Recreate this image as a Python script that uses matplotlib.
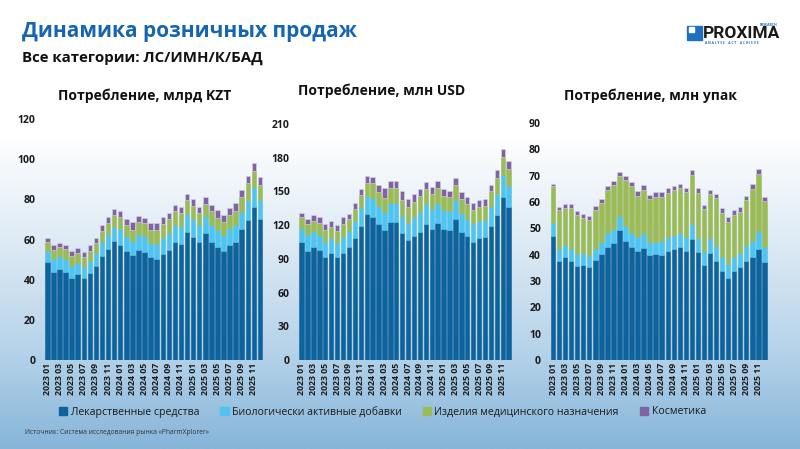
import matplotlib
matplotlib.use("Agg")
import matplotlib.pyplot as plt
import numpy as np
from matplotlib.patches import Patch, Rectangle
from matplotlib.colors import LinearSegmentedColormap

plt.rcParams['font.family'] = ['Open Sans', 'DejaVu Sans']

months = [f"{y} {m:02d}" for y in (2023, 2024, 2025) for m in range(1, 13)]
tick_labels = [m if i % 2 == 0 else "" for i, m in enumerate(months)]

series_names = ["Лекарственные средства", "Биологически активные добавки",
                "Изделия медицинского назначения", "Косметика"]
colors = ["#0E639C", "#4FC4F0", "#9BBB59", "#8064A2"]

# Chart 1: млрд KZT
kzt_ls = [48.7, 43.9, 45.3, 44.0, 41.0, 42.7, 40.7, 43.2, 47.0, 51.8, 55.3, 59.1,
          57.5, 54.2, 52.2, 54.7, 54.0, 51.3, 50.5, 52.8, 54.8, 58.6, 57.6, 63.6,
          61.3, 58.8, 63.0, 58.8, 56.3, 54.3, 57.5, 59.0, 65.1, 69.8, 76.2, 70.1]
kzt_bad = [5.8, 6.3, 6.5, 6.3, 6.0, 5.8, 5.8, 6.3, 6.3, 7.0, 7.6, 7.3,
           7.6, 7.6, 7.0, 7.8, 7.8, 7.1, 7.5, 8.1, 8.3, 8.5, 8.8, 9.0,
           8.8, 8.6, 8.6, 8.5, 8.3, 8.1, 8.1, 8.3, 8.8, 10.1, 10.1, 9.6]
kzt_imn = [4.5, 4.7, 4.3, 5.0, 5.0, 4.7, 4.7, 5.0, 4.8, 5.5, 5.5, 5.8,
           6.1, 5.3, 5.6, 6.0, 6.3, 6.3, 6.5, 6.6, 7.1, 7.1, 6.8, 7.1,
           6.6, 6.0, 6.1, 6.8, 6.3, 6.3, 6.8, 7.0, 7.1, 8.0, 8.0, 7.5]
kzt_k = [1.8, 2.2, 2.0, 2.2, 2.2, 2.7, 2.7, 3.0, 2.8, 2.7, 2.7, 3.2,
         2.8, 3.2, 4.0, 3.0, 2.8, 3.7, 3.8, 3.7, 2.8, 3.0, 3.2, 3.2,
         3.3, 3.0, 3.5, 3.2, 3.8, 3.5, 3.5, 3.7, 3.7, 3.8, 3.7, 3.7]

# Chart 2: млн USD
usd_ls = [105.3, 97.0, 100.9, 97.6, 92.0, 94.9, 91.4, 95.5, 100.3, 108.3, 119.5, 129.6,
          127.0, 120.7, 115.7, 122.5, 122.5, 112.7, 106.5, 110.4, 114.2, 120.7, 116.3, 122.2,
          116.6, 116.0, 125.8, 114.2, 110.1, 105.3, 108.3, 109.5, 119.5, 128.7, 145.4, 136.5]
usd_bad = [12.5, 14.2, 13.6, 13.9, 13.3, 13.6, 13.1, 14.2, 14.2, 15.1, 16.0, 16.0,
           17.5, 16.3, 15.7, 17.2, 17.2, 15.7, 15.4, 16.6, 17.8, 18.1, 17.8, 17.5,
           16.6, 16.6, 16.9, 16.6, 15.7, 15.7, 15.4, 15.4, 16.3, 18.7, 19.6, 18.4]
usd_imn = [9.5, 9.8, 9.5, 10.4, 10.4, 10.1, 10.4, 11.3, 10.7, 11.3, 11.0, 11.9,
           13.1, 12.2, 12.5, 13.3, 13.3, 14.2, 14.2, 13.6, 13.9, 13.6, 13.6, 13.3,
           13.1, 12.2, 13.1, 12.5, 12.8, 12.5, 12.8, 12.5, 14.2, 14.5, 15.7, 15.1]
usd_k = [3.9, 4.5, 4.7, 5.0, 5.3, 5.3, 5.0, 5.9, 5.0, 5.3, 5.9, 6.2,
         5.6, 6.2, 8.9, 6.5, 6.5, 8.0, 7.4, 7.1, 5.9, 6.2, 5.9, 6.2,
         5.9, 5.9, 6.2, 6.2, 6.2, 5.9, 6.2, 5.9, 5.9, 7.1, 7.1, 7.1]

# Chart 3: млн упак
pck_ls = [47.2, 37.5, 39.0, 37.5, 35.7, 36.2, 35.2, 37.8, 40.3, 42.9, 44.6, 49.2,
          45.1, 43.0, 41.4, 42.7, 39.7, 40.1, 40.0, 41.4, 42.2, 42.8, 41.3, 46.1,
          40.9, 36.1, 40.6, 37.6, 33.7, 31.3, 33.8, 35.3, 37.6, 39.0, 42.2, 37.1]
pck_bad = [4.7, 4.7, 4.6, 4.8, 4.6, 4.3, 4.3, 4.3, 4.7, 5.2, 5.2, 5.6,
           5.6, 5.3, 5.2, 5.4, 5.2, 4.9, 5.1, 5.2, 5.2, 5.3, 5.3, 5.6,
           5.4, 5.3, 5.8, 5.8, 5.4, 5.3, 5.4, 5.4, 5.8, 6.3, 6.7, 5.7]
pck_imn = [14.2, 14.6, 14.3, 15.6, 14.8, 13.4, 13.8, 14.9, 14.7, 16.5, 16.6, 14.9,
           17.5, 17.8, 15.6, 16.5, 16.1, 17.0, 16.8, 17.0, 17.2, 17.3, 17.3, 18.7,
           17.1, 15.8, 16.5, 18.0, 16.6, 15.8, 15.7, 15.6, 17.3, 19.5, 21.8, 17.5]
pck_k = [0.8, 1.3, 1.4, 1.4, 1.4, 1.4, 1.5, 1.6, 1.6, 1.5, 1.6, 1.6,
         1.5, 1.6, 2.0, 1.9, 1.6, 1.9, 1.8, 1.8, 1.6, 1.6, 1.6, 1.8,
         1.8, 1.6, 1.6, 1.5, 1.9, 1.8, 1.9, 1.9, 1.5, 2.0, 1.9, 1.6]

charts = [
    ("Потребление, млрд KZT", [kzt_ls, kzt_bad, kzt_imn, kzt_k], 120, 20),
    ("Потребление, млн USD", [usd_ls, usd_bad, usd_imn, usd_k], 210, 30),
    ("Потребление, млн упак", [pck_ls, pck_bad, pck_imn, pck_k], 90, 10),
]

W, H = 800, 449
fig = plt.figure(figsize=(W / 100, H / 100), dpi=100)

# background gradient
bg = fig.add_axes([0, 0, 1, 1], zorder=-10)
cmap = LinearSegmentedColormap.from_list(
    "bg", [(0.0, "#ffffff"), (0.3, "#ffffff"), (0.55, "#dce9f4"),
           (0.8, "#b2d1e8"), (1.0, "#86b5d9")])
grad = np.linspace(0, 1, 256).reshape(-1, 1)
bg.imshow(grad, aspect="auto", cmap=cmap, extent=[0, 1, 0, 1], origin="upper")
bg.set_axis_off()

def px_axes(x0, x1, ytop, ybot):
    return fig.add_axes([x0 / W, 1 - ybot / H, (x1 - x0) / W, (ybot - ytop) / H])

boxes = [(43.7, 263.6, 119, 360), (298.1, 512.2, 124, 360), (549.4, 768.0, 123, 360)]
title_pos = [(145, 96), (382, 91), (650, 96)]

for (title, data, ymax, step), (x0, x1, yt, yb), (tx, ty) in zip(charts, boxes, title_pos):
    ax = px_axes(x0, x1, yt, yb)
    ax.patch.set_alpha(0)
    x = np.arange(len(months))
    bottom = np.zeros(len(months))
    for vals, c in zip(data, colors):
        v = np.array(vals)
        ec = "#d9d2e6" if c == "#8064A2" else c
        ax.bar(x, v, bottom=bottom, width=0.74, color=c, edgecolor=ec, linewidth=0.4)
        bottom += v
    ax.set_xlim(-0.6, len(months) - 0.4)
    ax.set_ylim(0, ymax)
    ax.set_yticks(np.arange(0, ymax + 1, step))
    ax.set_xticks(x)
    ax.set_xticklabels(tick_labels, rotation=90, fontsize=6.3, fontweight="bold", color="#1a1a1a")
    ax.tick_params(axis="both", length=0)
    ax.tick_params(axis="x", pad=2)
    ax.tick_params(axis="y", pad=6, labelsize=7.5, labelcolor="#1a1a1a")
    for lbl in ax.get_yticklabels():
        lbl.set_fontweight("bold")
    for s in ax.spines.values():
        s.set_visible(False)
    fig.text(tx / W, 1 - ty / H, title, ha="center", va="center",
             fontsize=10, fontweight="bold", color="#111111")

# titles
fig.text(22 / W, 1 - 32 / H, "Динамика розничных продаж", ha="left", va="center",
         fontsize=15, fontweight="bold", color="#1565B0")
fig.text(22 / W, 1 - 58 / H, "Все категории: ЛС/ИМН/К/БАД", ha="left", va="center",
         fontsize=10.8, fontweight="bold", color="#111111")

# logo
fig.patches.append(Rectangle((687 / W, 1 - 40 / H), 15 / W, 14 / H,
                             transform=fig.transFigure, color="#1E6FC0"))
fig.patches.append(Rectangle((689 / W, 1 - 32 / H), 5 / W, 5 / H,
                             transform=fig.transFigure, color="white"))
fig.text(703 / W, 1 - 33 / H, "PROXIMA", ha="left", va="center", fontsize=12.5,
         fontweight="bold", color="#1a1a1a", family="Roboto", fontstretch="condensed")
fig.text(777 / W, 1 - 24.5 / H, "RESEARCH", ha="right", va="center", fontsize=2.5,
         color="#1E6FC0", fontweight="bold")
fig.text(732 / W, 1 - 43 / H, "A N A L Y S E    A C T    A C H I E V E", ha="center",
         va="center", fontsize=2.3, color="#1E6FC0", fontweight="bold")

# legend
handles = [Patch(facecolor=c, edgecolor=c) for c in colors]
fig.legend(handles, series_names, loc="center", bbox_to_anchor=(0.478, 1 - 412 / H),
           ncol=4, frameon=False, fontsize=7.6, handlelength=0.8, handleheight=0.8,
           handletextpad=0.3, columnspacing=2.0, labelcolor="#1a1a1a")

fig.text(25 / W, 1 - 433 / H, "Источник: Система исследования рынка «PharmXplorer»",
         ha="left", va="center", fontsize=4.8, color="#333333")

fig.savefig("out.png", dpi=100)
